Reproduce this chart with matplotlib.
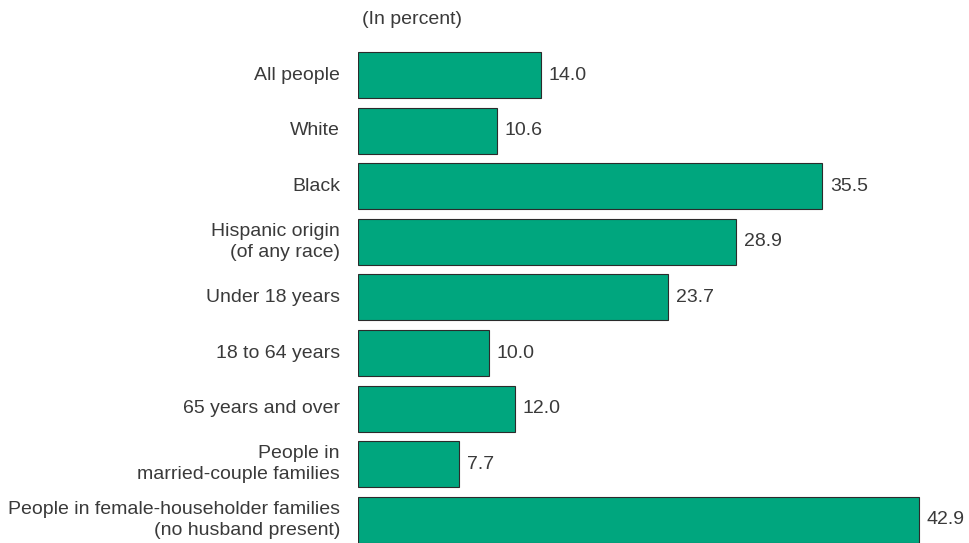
import matplotlib
matplotlib.use("Agg")
import matplotlib.pyplot as plt

categories = [
    "All people",
    "White",
    "Black",
    "Hispanic origin\n(of any race)",
    "Under 18 years",
    "18 to 64 years",
    "65 years and over",
    "People in\nmarried-couple families",
    "People in female-householder families\n(no husband present)",
]
values = [14.0, 10.6, 35.5, 28.9, 23.7, 10.0, 12.0, 7.7, 42.9]

BAR_COLOR = "#00a67e"
EDGE_COLOR = "#2b2b2b"
TEXT_COLOR = "#3a3a3a"

plt.rcParams["font.family"] = ["Liberation Sans", "DejaVu Sans"]

W, H = 969, 543
fig = plt.figure(figsize=(W / 100, H / 100), dpi=100)
x0 = 358
ax = fig.add_axes([x0 / W, 0, 1 - x0 / W, 1])
px_per_unit = 13.07
pitch = 55.6
first_center = 75
ax.set_xlim(0, (W - x0) / px_per_unit)
ax.set_ylim((H - first_center) / pitch, -first_center / pitch)
ax.axis("off")

ypos = list(range(len(values)))
ax.barh(ypos, values, height=0.83, color=BAR_COLOR, edgecolor=EDGE_COLOR,
        linewidth=0.8)

for y, v, lab in zip(ypos, values, categories):
    ax.text(v + 8 / px_per_unit, y, f"{v:.1f}", va="center", ha="left",
            fontsize=14, color=TEXT_COLOR)
    ax.text(-18 / px_per_unit, y, lab, va="center", ha="right",
            fontsize=14, color=TEXT_COLOR, linespacing=1.3, clip_on=False)

fig.text(362 / W, 1 - 20 / H, "(In percent)", ha="left", va="center",
         fontsize=14, color=TEXT_COLOR)

fig.savefig("out.png", dpi=100)
